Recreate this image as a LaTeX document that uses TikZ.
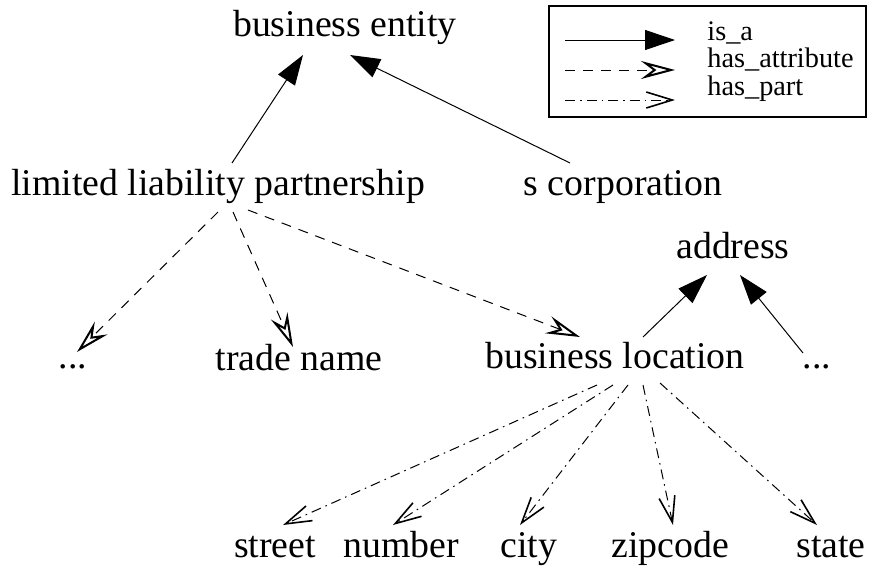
\documentclass[tikz,border=0pt]{standalone}
\usepackage{fontspec}
\setmainfont{Liberation Serif}
\usetikzlibrary{arrows.meta,calc}
\begin{document}
\begin{tikzpicture}[x=0.5pt,y=-0.5pt,
    term/.style={anchor=base,inner sep=0pt,font=\fontsize{18.9}{22}\selectfont},
    keytext/.style={anchor=base west,inner sep=0pt,font=\fontsize{14.15}{17}\selectfont},
    isa/.style={line width=0.5pt,-{Triangle[length=15pt,width=10pt]}},
    hasattr/.style={line width=0.5pt,dash pattern=on 5pt off 4pt,
        -{Stealth[open,length=17pt,width=9pt,inset=6pt,line width=1pt]}},
    haspart/.style={line width=0.5pt,dash pattern=on 5pt off 2.5pt on 0.8pt off 2.5pt,
        -{Straight Barb[length=13pt,width=8pt,line width=0.8pt]}}]
    \useasboundingbox (0,0) rectangle (875,568);
    % terms
    \node[term] (be) at (345,36) {business entity};
    \node[term] (llp) at (218,195) {limited liability partnership};
    \node[term] (sc) at (623,195) {s corporation};
    \node[term] (addr) at (733,258) {address};
    \node[term] (dotsl) at (73,368) {...};
    \node[term] (tn) at (299,370) {trade name};
    \node[term] (bl) at (615,368) {business location};
    \node[term] (dotsr) at (817,368) {...};
    \node[term] (street) at (275,557) {street};
    \node[term] (number) at (401,557) {number};
    \node[term] (city) at (529,557) {city};
    \node[term] (zip) at (670,557) {zipcode};
    \node[term] (state) at (831,557) {state};
    % is_a
    \draw[isa] ($(llp.base)+(14,-32)$) -- ($(be.base)+(-42,19)$);
    \draw[isa] ($(sc.base)+(-53,-32)$) -- ($(be.base)+(5,19)$);
    \draw[isa] ($(bl.base)+(28,-31)$) -- ($(addr.base)+(-26,17)$);
    \draw[isa] ($(dotsr.base)+(-14,-15)$) -- ($(addr.base)+(7,17)$);
    % has_attribute
    \draw[hasattr] ($(llp.base)+(0,17)$) -- ($(dotsl.base)+(4,-16)$);
    \draw[hasattr] ($(llp.base)+(15,17)$) -- ($(tn.base)+(-6,-23)$);
    \draw[hasattr] ($(llp.base)+(30,15)$) -- ($(bl.base)+(-35,-31)$);
    % has_part
    \draw[haspart] ($(bl.base)+(-18,17)$) -- ($(street.base)+(8,-32)$);
    \draw[haspart] ($(bl.base)+(-2,17)$) -- ($(number.base)+(-8,-32)$);
    \draw[haspart] ($(bl.base)+(13,17)$) -- ($(city.base)+(-9,-32)$);
    \draw[haspart] ($(bl.base)+(28,17)$) -- ($(zip.base)+(3,-32)$);
    \draw[haspart] ($(bl.base)+(45,15)$) -- ($(state.base)+(-14,-32)$);
    % legend
    \draw[line width=0.6pt] (549,6) rectangle (866,117);
    \coordinate (k1) at (565,40);
    \coordinate (k2) at (565,70);
    \coordinate (k3) at (565,100);
    \draw[isa] (k1) -- ++(110,0);
    \draw[hasattr] (k2) -- ++(110,0);
    \draw[haspart] (k3) -- ++(110,0);
    \node[keytext] (kisa) at (707,40) {is\_a};
    \node[keytext] (kattr) at (707,67) {has\_attribute};
    \node[keytext] (kpart) at (707,95) {has\_part};
\end{tikzpicture}
\end{document}
